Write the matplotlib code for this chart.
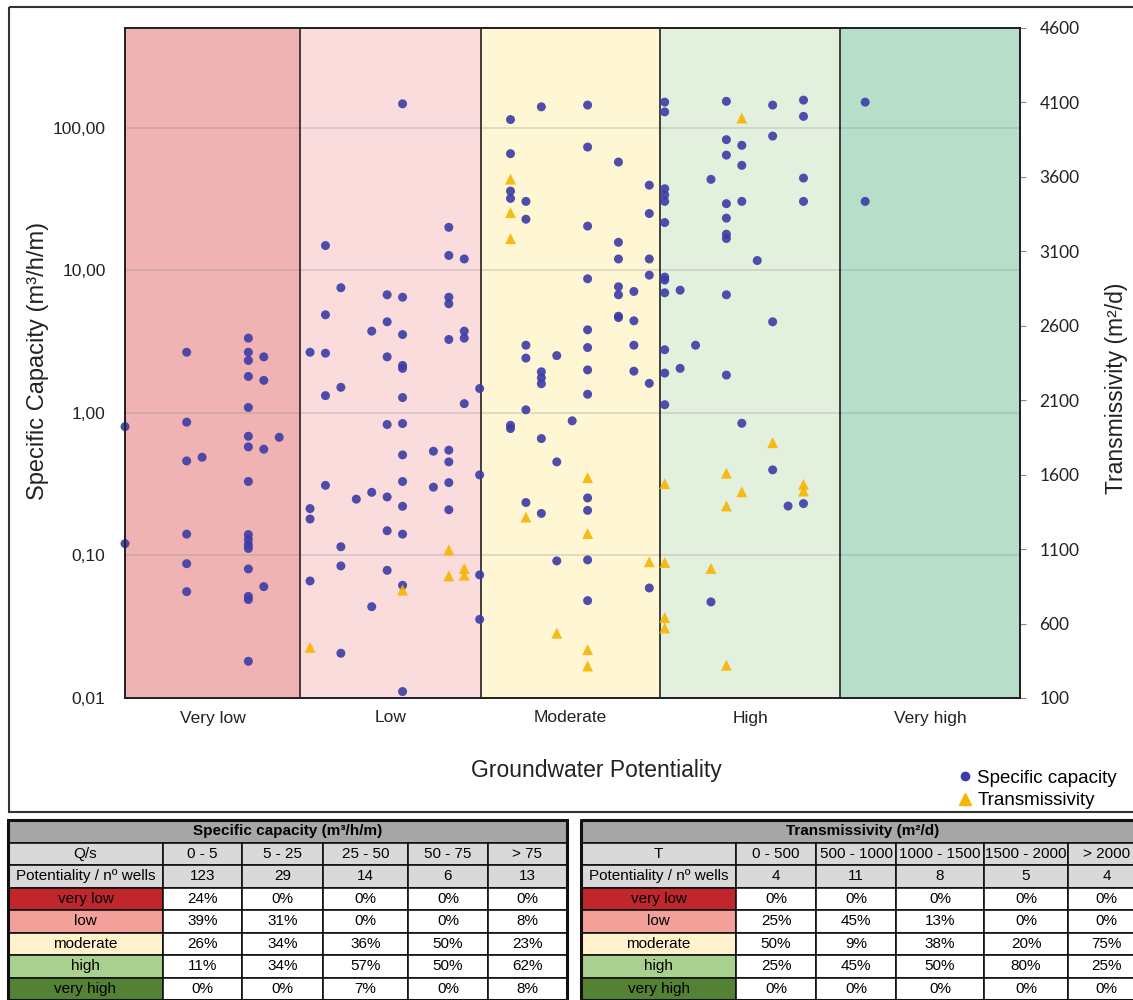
import matplotlib.pyplot as plt
from matplotlib.patches import Rectangle
from matplotlib.lines import Line2D
from matplotlib.ticker import FixedLocator, NullLocator

plt.rcParams['font.family'] = ['Liberation Sans', 'DejaVu Sans']

# potentiality classes (x axis runs along a well index, bands = classes)
classes = ["Very low", "Low", "Moderate", "High", "Very high"]
class_edges = [0, 11.35, 23.09, 34.7, 46.37, 58.04]
class_colors = ["#f0b3b3", "#fbdcdd", "#fff6d4", "#e4f0de", "#b6dec9"]

# specific capacity (m3/h/m)
sc_pos = ([0] * 2 + [4] * 6 + [5] + [8] * 16 + [9] * 4 + [10]
          + [12] * 4 + [13] * 5 + [14] * 5 + [15] + [16] * 3 + [17] * 7
          + [18] * 13 + [20] * 2 + [21] * 9 + [22] * 4 + [23] * 4
          + [25] * 6 + [26] * 6 + [27] * 6 + [28] * 3 + [29] + [30] * 12
          + [32] * 7 + [33] * 4 + [34] * 6
          + [35] * 12 + [36] * 2 + [37] + [38] * 2 + [39] * 9 + [40] * 4
          + [41] + [42] * 4 + [43] + [44] * 5 + [48] * 2)
sc_val = [0.80, 0.121,
          2.66, 0.86, 0.46, 0.141, 0.0875, 0.0557,
          0.488,
          3.34, 2.66, 2.33, 1.80, 1.09, 0.685, 0.577, 0.330, 0.140, 0.129,
          0.119, 0.112, 0.0804, 0.0516, 0.049, 0.0181,
          2.47, 1.69, 0.556, 0.0604,
          0.674,
          2.66, 0.213, 0.180, 0.0662,
          14.9, 4.87, 2.62, 1.32, 0.310,
          7.54, 1.51, 0.115, 0.0844, 0.0206,
          0.248,
          3.74, 0.277, 0.0437,
          6.73, 4.35, 2.47, 0.828, 0.257, 0.149, 0.0786,
          147, 6.47, 3.54, 2.15, 2.05, 1.28, 0.841, 0.507, 0.330, 0.221,
          0.141, 0.0617, 0.0111,
          0.538, 0.301,
          20.0, 12.7, 6.47, 5.82, 3.27, 0.547, 0.453, 0.324, 0.209,
          12.0, 3.74, 3.34, 1.16,
          1.48, 0.367, 0.0730, 0.0356,
          114, 65.7, 35.9, 31.9, 0.818, 0.776,
          30.4, 22.8, 2.98, 2.42, 1.05, 0.235,
          140, 1.94, 1.76, 1.60, 0.660, 0.197,
          2.52, 0.453, 0.0915,
          0.879,
          144, 73.1, 20.4, 8.71, 3.82, 2.87, 2.00, 1.35, 0.253, 0.207,
          0.0930, 0.0482,
          57.4, 15.7, 12.0, 7.66, 6.73, 4.76, 4.66,
          7.10, 4.42, 2.98, 1.96,
          39.5, 25.0, 12.0, 9.24, 1.61, 0.0591,
          151, 129, 37.3, 33.7, 30.4, 21.6, 8.95, 8.53, 6.95, 2.77, 1.90, 1.14,
          7.25, 2.05,
          2.98,
          43.4, 0.0472,
          153, 82.4, 64.2, 29.3, 23.2, 17.9, 16.7, 6.73, 1.84,
          75.2, 54.4, 30.4, 0.845,
          11.7,
          144, 87.3, 4.35, 0.398,
          0.222,
          156, 120, 44.3, 30.4, 0.231,
          151, 30.4]

# transmissivity (m2/d)
tr_pos = [12, 18, 21, 21, 22, 22, 25, 25, 25, 26, 28, 30, 30, 30, 30, 34,
          35, 35, 35, 35, 38, 39, 39, 39, 40, 40, 42, 44, 44]
tr_val = [440, 825, 1095, 920, 970, 925, 3585, 3360, 3185, 1315, 535,
          1580, 1205, 425, 315, 1015, 1540, 1010, 640, 570, 970, 1610, 1390,
          320, 3995, 1485, 1815, 1535, 1490]

sc_ticks = [0.01, 0.1, 1, 10, 100]
sc_tick_labels = ["0,01", "0,10", "1,00", "10,00", "100,00"]
tr_ticks = [100, 600, 1100, 1600, 2100, 2600, 3100, 3600, 4100, 4600]

# tables
row_names = ["very low", "low", "moderate", "high", "very high"]
row_colors = ["#c0272d", "#f4a09a", "#fff2cc", "#a9d08e", "#548235"]
qs_classes = ["0 - 5", "5 - 25", "25 - 50", "50 - 75", "> 75"]
qs_wells = [123, 29, 14, 6, 13]
qs_pct = [[24, 0, 0, 0, 0],
          [39, 31, 0, 0, 8],
          [26, 34, 36, 50, 23],
          [11, 34, 57, 50, 62],
          [0, 0, 7, 0, 8]]
t_classes = ["0 - 500", "500 - 1000", "1000 - 1500", "1500 - 2000", "> 2000"]
t_wells = [4, 11, 8, 5, 4]
t_pct = [[0, 0, 0, 0, 0],
         [25, 45, 13, 0, 0],
         [50, 9, 38, 20, 75],
         [25, 45, 50, 80, 25],
         [0, 0, 0, 0, 0]]

fig = plt.figure(figsize=(11.33, 10), dpi=100)

# overlay in pixel units for the frame and the tables
ov = fig.add_axes([0, 0, 1, 1], zorder=0)
ov.set_xlim(0, 1133)
ov.set_ylim(1000, 0)
ov.axis('off')
ov.add_patch(Rectangle((9, 7), 1140, 805, fill=False, ec='#333333', lw=1.5))


def draw_table(cols, title, first, classes_, wells, pct):
    rows = [820, 842.5, 865, 887.5, 910, 932.5, 955, 977.5, 1000]
    x0, x1 = cols[0], cols[-1]
    fs = 11
    ov.add_patch(Rectangle((x0, rows[0]), x1 - x0, rows[1] - rows[0],
                           fc='#a6a6a6', ec='#111111', lw=1.2))
    ov.text((x0 + x1) / 2, (rows[0] + rows[1]) / 2, title, ha='center',
            va='center', fontsize=fs, fontweight='bold')
    heads = [[first] + classes_, ["Potentiality / nº wells"] + [str(w) for w in wells]]
    for r in range(2):
        for c in range(6):
            ov.add_patch(Rectangle((cols[c], rows[r + 1]), cols[c + 1] - cols[c],
                                   rows[r + 2] - rows[r + 1],
                                   fc='#d9d9d9', ec='#111111', lw=1.2))
            ov.text((cols[c] + cols[c + 1]) / 2, (rows[r + 1] + rows[r + 2]) / 2,
                    heads[r][c], ha='center', va='center', fontsize=fs)
    for r in range(5):
        y0, y1 = rows[r + 3], rows[r + 4]
        cells = [row_names[r]] + ["%d%%" % p for p in pct[r]]
        for c in range(6):
            ov.add_patch(Rectangle((cols[c], y0), cols[c + 1] - cols[c], y1 - y0,
                                   fc=row_colors[r] if c == 0 else 'white',
                                   ec='#111111', lw=1.2))
            ov.text((cols[c] + cols[c + 1]) / 2, (y0 + y1) / 2, cells[c],
                    ha='center', va='center', fontsize=fs)
    ov.add_patch(Rectangle((x0, rows[0]), x1 - x0, rows[-1] - rows[0],
                           fill=False, ec='#111111', lw=2.2))


draw_table([8, 163, 242, 323, 408, 488, 567], "Specific capacity (m³/h/m)",
           "Q/s", qs_classes, qs_wells, qs_pct)
draw_table([581, 736, 816, 896, 984, 1068, 1145], "Transmissivity (m²/d)",
           "T", t_classes, t_wells, t_pct)

# main chart
ax = fig.add_axes([125 / 1133, 0.302, 895 / 1133, 0.670], zorder=2)
ax.set_facecolor('none')
ax.set_yscale('log')
ax.set_ylim(0.01, 500)
ax.set_xlim(class_edges[0], class_edges[-1])
for i in range(5):
    ax.axvspan(class_edges[i], class_edges[i + 1], color=class_colors[i], lw=0, zorder=0)
for e in class_edges[1:-1]:
    ax.axvline(e, color='#222222', lw=1.2, zorder=1)
ax.set_axisbelow(True)
ax.yaxis.set_major_locator(FixedLocator(sc_ticks))
ax.yaxis.set_minor_locator(NullLocator())
ax.set_yticklabels(sc_tick_labels, fontsize=12.5, color='#222222')
ax.yaxis.grid(True, color='#8c8c8c', alpha=0.28, lw=1.3)
ax.tick_params(axis='y', length=0, pad=14)
centers = [(class_edges[i] + class_edges[i + 1]) / 2 for i in range(5)]
ax.set_xticks(centers)
ax.set_xticklabels(classes, fontsize=12.5, color='#222222')
ax.tick_params(axis='x', length=0, pad=9)
for s in ax.spines.values():
    s.set_color('#222222')
    s.set_linewidth(1.3)

ax.scatter(sc_pos, sc_val, s=42, color='#3b3ca6', alpha=0.9, edgecolors='none',
           zorder=4, clip_on=False)

ax2 = ax.twinx()
ax2.set_ylim(100, 4600)
ax2.yaxis.set_major_locator(FixedLocator(tr_ticks))
ax2.set_yticklabels([str(t) for t in tr_ticks], fontsize=12.5, color='#222222',
                    family=['Lato', 'DejaVu Sans'])
ax2.tick_params(axis='y', length=4, width=0.8, pad=10, color='#888888')
ax2.scatter(tr_pos, tr_val, marker='^', s=62, color='#f7b500', alpha=0.9,
            edgecolors='none', zorder=4, clip_on=False)
for s in ax2.spines.values():
    s.set_color('#222222')
    s.set_linewidth(1.3)

fig.text(38 / 1133, 1 - 361 / 1000, "Specific Capacity (m³/h/m)", rotation=90,
         ha='center', va='center', fontsize=17, color='#222222')
fig.text(1117 / 1133, 1 - 388 / 1000, "Transmissivity (m²/d)", rotation=90,
         ha='center', va='center', fontsize=16.5, color='#222222')
fig.text(596 / 1133, 1 - 771 / 1000, "Groundwater Potentiality",
         ha='center', va='center', fontsize=16.5, color='#222222')

handles = [Line2D([], [], ls='none', marker='o', ms=6, color='#3b3ca6'),
           Line2D([], [], ls='none', marker='^', ms=9, color='#f7b500')]
fig.legend(handles, ["Specific capacity", "Transmissivity"], loc='upper left',
           bbox_to_anchor=(952 / 1133, 1 - 762 / 1000), frameon=False,
           fontsize=13.5, handlelength=0.6, handletextpad=0.35,
           labelspacing=0.3, borderaxespad=0)

fig.savefig("out.png", dpi=100)
